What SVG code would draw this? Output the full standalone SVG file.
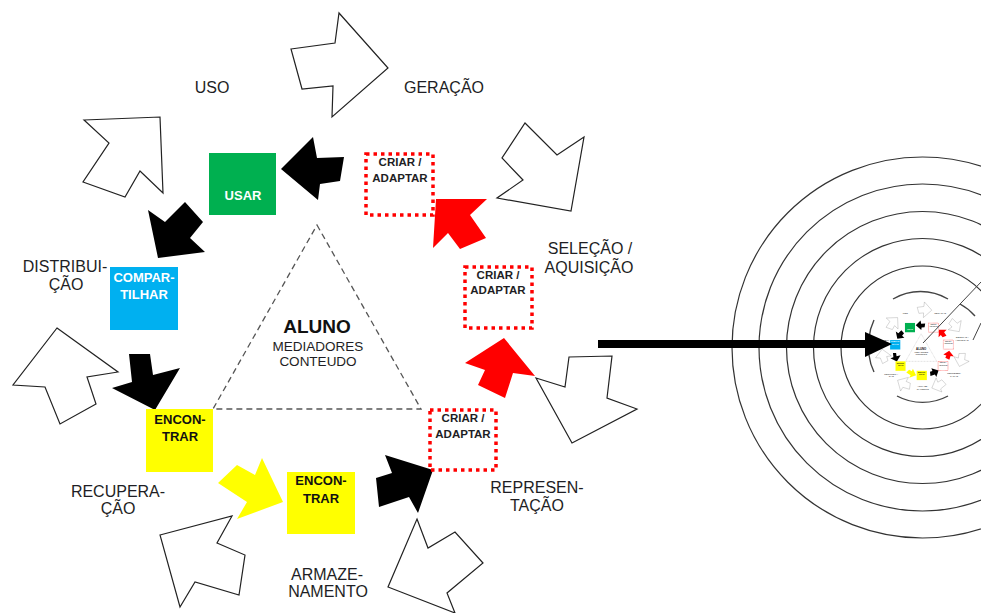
<svg xmlns="http://www.w3.org/2000/svg" xmlns:xlink="http://www.w3.org/1999/xlink" width="981" height="613" viewBox="0 0 981 613">
  <style>
    text { font-family: "Liberation Sans", Arial, sans-serif; }
    .lbl { font-size: 16px; fill: #1e1e24; text-anchor: middle; }
    .box-txt { font-size: 13px; font-weight: bold; text-anchor: middle; }
    .crt { font-size: 11.5px; font-weight: bold; fill: #1e1e24; text-anchor: middle; }
    .hollow { fill: #fff; stroke: #222; stroke-width: 1.2; stroke-linejoin: miter; }
    .solid { fill: #000; }
    .hot { fill: #ff0000; }
    .sun { fill: #ffff00; }
    .dotted { fill: none; stroke: #ff0000; stroke-width: 3.5; stroke-dasharray: 3.5 4; }
    .ring { fill: none; stroke: #333; stroke-width: 1.2; }
  </style>

  <rect width="981" height="613" fill="#fff"/>

  <!-- information cycle -->
  <g id="cycle">
    <g id="connectors">
      <!-- outer hollow arrows -->
      <polygon class="hollow" points="291,49 335,43 339,13 388,68 332,117 333,86 302,89"/>
      <polygon class="hollow" points="84,120 160,117 163,193 140,171 125,197 83,182 109,143"/>
      <polygon class="hollow" points="525,123 557,155 584,137 571,211 497,198 523,180 502,158"/>
      <polygon class="hollow" points="57,328 118,372 87,377 96,404 60,424 45,387 13,385"/>
      <polygon class="hollow" points="536,378 565,387 569,357 612,356 607,398 637,409 572,443"/>
      <polygon class="hollow" points="160,535 232,516 217,543 245,555 239,595 195,582 180,607"/>
      <polygon class="hollow" points="417,519 428,548 455,532 483,563 447,593 455,613 388,587"/>
      <!-- inner filled arrows -->
      <polygon class="solid" points="281,169 313,137 317,158 344,157 340,181 320,184 318,200"/>
      <polygon class="solid" points="158,258 148,210 165,222 185,202 203,222 190,238 205,252"/>
      <polygon class="solid" points="129,354 150,354 153,375 180,368 155,410 112,388 132,382"/>
      <polygon class="solid" points="385,455 433,470 418,513 409,497 379,507 376,478 392,473"/>
      <polygon class="sun" points="218,483 237,465 255,475 262,458 283,502 237,519 247,502"/>
      <polygon class="hot" points="436,199 487,199 470,215 486,238 460,249 448,233 433,248"/>
      <polygon class="hot" points="504,338 535,376 513,373 505,398 478,385 485,370 465,363"/>
    </g>

    <g id="core">
      <polygon points="317,225 421,409 213,409" fill="none" stroke="#555" stroke-width="1.3" stroke-dasharray="6 4"/>
      <text x="317" y="333" font-size="19" font-weight="bold" text-anchor="middle" fill="#111">ALUNO</text>
      <text x="318" y="351" font-size="13.5" text-anchor="middle" fill="#1e1e24">MEDIADORES</text>
      <text x="318" y="366" font-size="13.5" text-anchor="middle" fill="#1e1e24">CONTEUDO</text>
    </g>

    <g id="usar">
      <rect x="209" y="153" width="67" height="62" fill="#00b050"/>
      <text class="box-txt" x="243" y="200" fill="#fff">USAR</text>
    </g>
    <g id="compartilhar">
      <rect x="110" y="267" width="68" height="63" fill="#00b0f0"/>
      <text class="box-txt" x="144" y="281.5" fill="#fff">COMPAR-</text>
      <text class="box-txt" x="144" y="299" fill="#fff">TILHAR</text>
    </g>
    <g id="encontrar-1">
      <rect x="146" y="409" width="67" height="63" fill="#ffff00"/>
      <text class="box-txt" x="180" y="424" fill="#111" font-size="12.5">ENCON-</text>
      <text class="box-txt" x="180" y="441" fill="#111" font-size="12.5">TRAR</text>
    </g>
    <g id="encontrar-2">
      <rect x="287" y="472" width="68" height="62" fill="#ffff00"/>
      <text class="box-txt" x="321" y="485" fill="#111" font-size="12.5">ENCON-</text>
      <text class="box-txt" x="321" y="503" fill="#111" font-size="12.5">TRAR</text>
    </g>
    <g id="criar-1">
      <rect class="dotted" x="366" y="154" width="67" height="61"/>
      <text class="crt" x="400" y="166">CRIAR /</text>
      <text class="crt" x="400" y="182">ADAPTAR</text>
    </g>
    <g id="criar-2">
      <rect class="dotted" x="465" y="267" width="67" height="61"/>
      <text class="crt" x="498" y="279">CRIAR /</text>
      <text class="crt" x="498" y="294">ADAPTAR</text>
    </g>
    <g id="criar-3">
      <rect class="dotted" x="430" y="410" width="66" height="60"/>
      <text class="crt" x="463" y="422">CRIAR /</text>
      <text class="crt" x="463" y="438">ADAPTAR</text>
    </g>

    <g id="stages">
      <text class="lbl" x="212" y="93">USO</text>
      <text class="lbl" x="444" y="93">GERAÇÃO</text>
      <text class="lbl" x="590" y="254">SELEÇÃO /</text>
      <text class="lbl" x="589" y="273">AQUISIÇÃO</text>
      <text class="lbl" x="65" y="272">DISTRIBUI-</text>
      <text class="lbl" x="66" y="290">ÇÃO</text>
      <text class="lbl" x="118" y="497">RECUPERA-</text>
      <text class="lbl" x="118" y="514">ÇÃO</text>
      <text class="lbl" x="327" y="580">ARMAZE-</text>
      <text class="lbl" x="328" y="597">NAMENTO</text>
      <text class="lbl" x="537" y="493">REPRESEN-</text>
      <text class="lbl" x="537" y="511">TAÇÃO</text>
    </g>
  </g>

  <!-- concentric target with the cycle at its centre -->
  <g id="target">
    <circle class="ring" cx="922.5" cy="347.5" r="190.5"/>
    <circle class="ring" cx="922.5" cy="347.5" r="163.5"/>
    <circle class="ring" cx="922.5" cy="347.5" r="136"/>
    <circle class="ring" cx="922.5" cy="347.5" r="109"/>
    <circle class="ring" cx="922.5" cy="347.5" r="81.5"/>
    <g fill="none" stroke="#444" stroke-width="1.4">
      <path d="M893,299 A54,54 0 0 1 948,299"/>
      <path d="M897,396 A54,54 0 0 0 948,396"/>
      <path d="M874,320 A54,54 0 0 0 869,338"/>
      <path d="M869,355 A54,54 0 0 0 874,372"/>
      <path d="M960,304 A54,54 0 0 1 975,316"/>
    </g>
    <use xlink:href="#cycle" href="#cycle" transform="translate(873.6,300) scale(0.15)"/>
    <line x1="923" y1="343" x2="981" y2="282" stroke="#444" stroke-width="1"/>
    <line x1="973" y1="340" x2="981" y2="323" stroke="#444" stroke-width="1"/>
  </g>

  <!-- pointer into the target centre -->
  <g id="pointer">
    <rect x="598" y="340" width="268" height="8" fill="#000"/>
    <polygon points="865,332 892,344 865,357" fill="#000"/>
  </g>
</svg>
